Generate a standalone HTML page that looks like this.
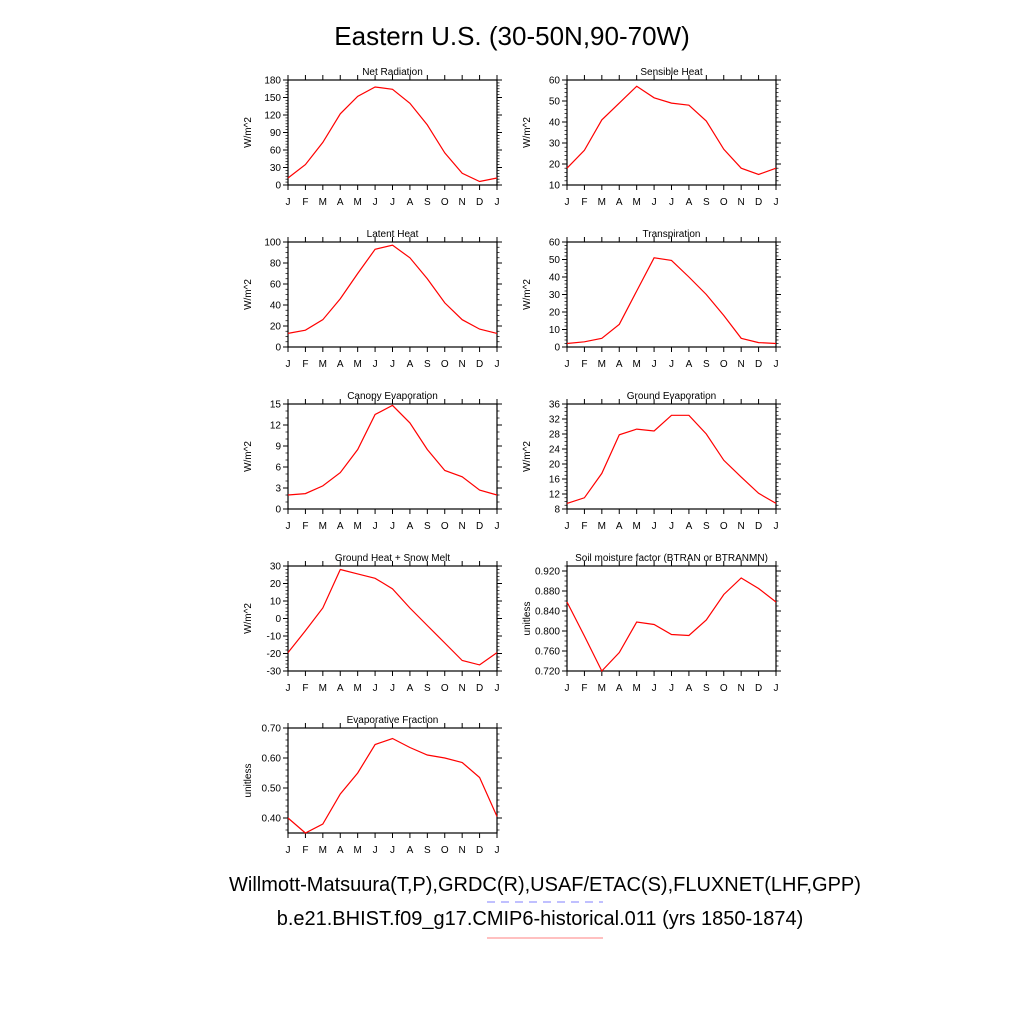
<!DOCTYPE html>
<html><head><meta charset="utf-8"><style>
html,body{margin:0;padding:0;background:#fff;}
svg{display:block;font-family:"Liberation Sans",sans-serif;}
</style></head><body>
<svg id="fig" width="1024" height="1024" viewBox="0 0 1024 1024">
<text x="512" y="45" text-anchor="middle" font-size="26">Eastern U.S. (30-50N,90-70W)</text>
<text x="545" y="891" text-anchor="middle" font-size="20">Willmott-Matsuura(T,P),GRDC(R),USAF/ETAC(S),FLUXNET(LHF,GPP)</text>
<line x1="487" y1="902" x2="603" y2="902" stroke="#8080ff" stroke-width="1" stroke-dasharray="8,6"/>
<text x="540" y="925" text-anchor="middle" font-size="20">b.e21.BHIST.f09_g17.CMIP6-historical.011 (yrs 1850-1874)</text>
<line x1="487" y1="938" x2="603" y2="938" stroke="#ff8080" stroke-width="1"/>
</svg>
<script>
const months = ["J","F","M","A","M","J","J","A","S","O","N","D","J"];
const netRad = [12,35,73,122,152,168,164,140,103,55,20,6,12];
const sensible = [18,26.5,41,49,57,51.5,49,48,40.5,27,18,15,18];
const latent = [13,16,26,46,70,93,97,85,65,42,26,17,13];
const transp = [2,3,5,13,32,51,49.5,40,30,18,5,2.5,2];
const canopy = [2,2.2,3.3,5.2,8.5,13.5,14.8,12.3,8.5,5.5,4.6,2.7,2];
const groundEvap = [9.5,11,17.5,27.8,29.3,28.8,33,33,28,21,16.5,12.2,9.5];
const groundHeat = [-19.5,-7,6,28,25.5,23,17,6,-4,-14,-24,-26.5,-19.5];
const soil = [0.858,0.790,0.720,0.757,0.818,0.813,0.793,0.791,0.822,0.873,0.906,0.885,0.858];
const evapFrac = [0.40,0.35,0.38,0.48,0.55,0.645,0.665,0.635,0.61,0.60,0.585,0.535,0.405];

const netTicks = [0,30,60,90,120,150,180];
const sensTicks = [10,20,30,40,50,60];
const latTicks = [0,20,40,60,80,100];
const trTicks = [0,10,20,30,40,50,60];
const canTicks = [0,3,6,9,12,15];
const geTicks = [8,12,16,20,24,28,32,36];
const ghTicks = [-30,-20,-10,0,10,20,30];
const soilTicks = [0.720,0.760,0.800,0.840,0.880,0.920];
const efTicks = [0.40,0.50,0.60,0.70];

const NS = "http://www.w3.org/2000/svg";
const svg = document.getElementById("fig");
function mk(tag, attrs, parent){const e=document.createElementNS(NS,tag);for(const k in attrs)e.setAttribute(k,attrs[k]);(parent||svg).appendChild(e);return e;}

const panels = [
 {name:"net-radiation",title:"Net Radiation",data:netRad,ticks:netTicks,min:0,max:180,minor:6,col:0,row:0,yl:"W/m^2",dec:0},
 {name:"sensible-heat",title:"Sensible Heat",data:sensible,ticks:sensTicks,min:10,max:60,minor:5,col:1,row:0,yl:"W/m^2",dec:0},
 {name:"latent-heat",title:"Latent Heat",data:latent,ticks:latTicks,min:0,max:100,minor:4,col:0,row:1,yl:"W/m^2",dec:0},
 {name:"transpiration",title:"Transpiration",data:transp,ticks:trTicks,min:0,max:60,minor:5,col:1,row:1,yl:"W/m^2",dec:0},
 {name:"canopy-evaporation",title:"Canopy Evaporation",data:canopy,ticks:canTicks,min:0,max:15,minor:3,col:0,row:2,yl:"W/m^2",dec:0},
 {name:"ground-evaporation",title:"Ground Evaporation",data:groundEvap,ticks:geTicks,min:8,max:36,minor:4,col:1,row:2,yl:"W/m^2",dec:0},
 {name:"ground-heat",title:"Ground Heat + Snow Melt",data:groundHeat,ticks:ghTicks,min:-30,max:30,minor:5,col:0,row:3,yl:"W/m^2",dec:0},
 {name:"soil-moisture",title:"Soil moisture factor (BTRAN or BTRANMN)",data:soil,ticks:soilTicks,min:0.72,max:0.93,minor:4,col:1,row:3,yl:"unitless",dec:3},
 {name:"evaporative-fraction",title:"Evaporative Fraction",data:evapFrac,ticks:efTicks,min:0.35,max:0.70,minor:5,col:0,row:4,yl:"unitless",dec:2},
];

panels.forEach(p=>{
  const x0 = p.col===0?288:567, x1 = x0+209;
  const y0 = 80 + p.row*162, y1 = y0+105;
  const g = mk("g",{});
  
  
  const xs = i => x0 + (x1-x0)*i/12;
  const ys = v => y1 - (y1-y0)*(v-p.min)/(p.max-p.min);
  const fr = mk("rect",{x:x0,y:y0,width:x1-x0,height:y1-y0,fill:"none",stroke:"#000","stroke-width":1.2},g);
  
  
  const t = mk("text",{x:(x0+x1)/2,y:y0-5,"text-anchor":"middle","font-size":10},g);
  t.textContent = p.title;
  
  
  months.forEach((m,i)=>{
    const x=xs(i);
    mk("line",{x1:x,y1:y1,x2:x,y2:y1+5,stroke:"#000","stroke-width":1},g);
    mk("line",{x1:x,y1:y0,x2:x,y2:y0-5,stroke:"#000","stroke-width":1},g);
    const l=mk("text",{x:x,y:y1+20,"text-anchor":"middle","font-size":10},g);
    l.textContent=m;
    
    
  });
  const step = p.ticks[1]-p.ticks[0];
  p.ticks.forEach((v,k)=>{
    const y=ys(v);
    mk("line",{x1:x0,y1:y,x2:x0-5,y2:y,stroke:"#000","stroke-width":1},g);
    mk("line",{x1:x1,y1:y,x2:x1+5,y2:y,stroke:"#000","stroke-width":1},g);
    const l=mk("text",{x:x0-7,y:y+3.5,"text-anchor":"end","font-size":10},g);
    l.textContent=v.toFixed(p.dec);
    
    
  });
  const ms = step/p.minor;
  for(let v=p.ticks[0]-step; v<=p.max+1e-9; v+=ms){
    if(v<p.min-1e-9) continue;
    const y=ys(v);
    mk("line",{x1:x0,y1:y,x2:x0-2.5,y2:y,stroke:"#000","stroke-width":0.7},g);
    mk("line",{x1:x1,y1:y,x2:x1+2.5,y2:y,stroke:"#000","stroke-width":0.7},g);
  }
  const yl=mk("text",{x:0,y:0,"text-anchor":"middle","font-size":10,transform:`translate(${x0-37},${(y0+y1)/2}) rotate(-90)`},g);
  yl.textContent=p.yl;
  
  
  const pts = p.data.map((v,i)=>xs(i).toFixed(1)+","+ys(v).toFixed(1)).join(" ");
  const ln = mk("polyline",{points:pts,fill:"none",stroke:"#ff0000","stroke-width":1.2},g);
  
  
});
</script>
</body></html>
